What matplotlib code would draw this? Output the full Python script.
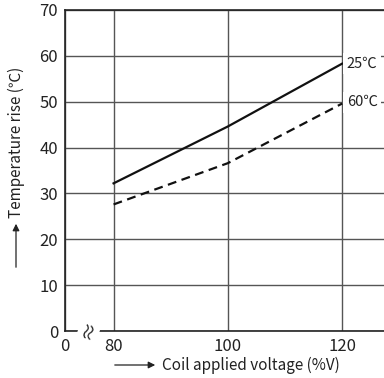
import numpy as np
import matplotlib.pyplot as plt

plt.rcParams['font.family'] = ['Noto Sans CJK JP', 'DejaVu Sans']

voltage = [80, 100, 120]
rise_25 = [32.2, 44.6, 58.3]
rise_60 = [27.6, 36.6, 49.6]
yticks = [0, 10, 20, 30, 40, 50, 60, 70]
xticks = [71.5, 80, 100, 120]
xticklabels = ['0', '80', '100', '120']

W, H = 384, 378
fig = plt.figure(figsize=(3.84, 3.78), dpi=100)
ax = fig.add_axes([65 / W, 47 / H, 1 - 65 / W + 0.01, 321 / H])

ax.set_xlim(71.5, 128)
ax.set_ylim(0, 70)
ax.set_xticks(xticks)
ax.set_xticklabels(xticklabels)
ax.set_yticks(yticks)
ax.tick_params(length=0, labelsize=12, colors='#222222')
ax.tick_params(axis='x', pad=5)
ax.tick_params(axis='y', pad=5)
ax.grid(True, color='#555555', linewidth=1.0)
ax.set_axisbelow(True)
for side in ['left', 'bottom', 'top']:
    ax.spines[side].set_color('#222222')
    ax.spines[side].set_linewidth(1.2)
ax.spines['right'].set_visible(False)

ax.plot(voltage, rise_25, color='#111111', linewidth=1.6)
ax.plot(voltage, rise_60, color='#111111', linewidth=1.6, linestyle=(0, (4, 2.5)))

lab = dict(fontsize=10.5, va='center', ha='left', color='#222222', zorder=5,
           bbox=dict(boxstyle='square,pad=0.25', fc='white', ec='none'))
ax.text(120.8, rise_25[-1], '25℃', **lab)
ax.text(120.8, rise_60[-1] + 0.3, '60℃', **lab)

# axis break mark
ax.text(75.7, 0.2, '≈', fontsize=14, rotation=72, ha='center', va='center',
        color='#222222', clip_on=False, zorder=5,
        bbox=dict(boxstyle='square,pad=0.0', fc='white', ec='none'))

fig.text(162 / W, 1 - 365 / H, 'Coil applied voltage (%V)', fontsize=11,
         ha='left', va='center', color='#222222')
fig.add_artist(plt.matplotlib.patches.FancyArrowPatch(
    (112 / W, 1 - 365 / H), (158 / W, 1 - 365 / H), transform=fig.transFigure,
    arrowstyle='-|>,head_length=4,head_width=2', color='#222222', lw=0.9))
fig.text(16 / W, 1 - 218 / H, 'Temperature rise (℃)', fontsize=11,
         ha='center', va='bottom', rotation=90, color='#222222')
fig.add_artist(plt.matplotlib.patches.FancyArrowPatch(
    (16 / W, 1 - 270 / H), (16 / W, 1 - 221 / H), transform=fig.transFigure,
    arrowstyle='-|>,head_length=4,head_width=2', color='#222222', lw=0.9))

fig.savefig('out.png', dpi=100)
